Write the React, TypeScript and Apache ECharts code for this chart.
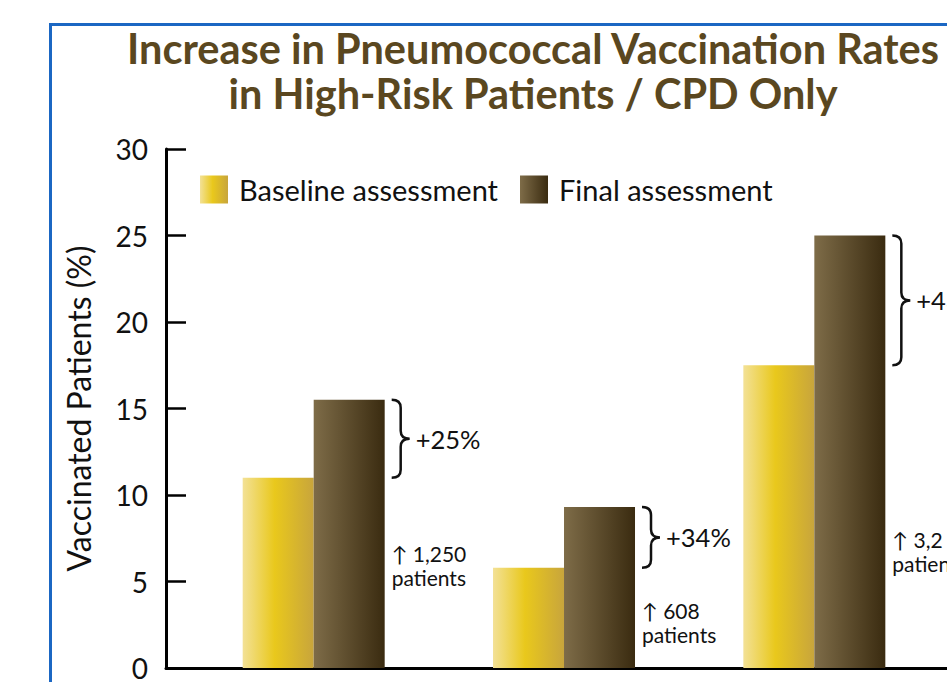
import React, { useEffect, useRef } from "react";
import * as echarts from "echarts";

// ---- data ----
const groups = [1, 2, 3];
const baselineValues = [11.0, 5.8, 17.5];
const finalValues = [15.5, 9.3, 25.0];
const increaseLabels = ["+25%", "+34%", "+43%"];
const patientLabels = ["↑ 1,250", "↑ 608", "↑ 3,2"];
const seriesNames = ["Baseline assessment", "Final assessment"];
const yTicks = [0, 5, 10, 15, 20, 25, 30];

// ---- layout constants ----
const BAR_W = 71;
const NOTE_TOP = [7.3, 4.0, 8.1];
const FONT = "Lato, 'Noto Sans', sans-serif";

export default function App() {
  const ref = useRef<HTMLDivElement>(null);
  useEffect(() => {
    if (!ref.current) return;
    const chart = echarts.init(ref.current, undefined, { renderer: "svg" });
    const baseGrad = new echarts.graphic.LinearGradient(0, 0, 1, 0, [
      { offset: 0, color: "#f3e196" },
      { offset: 0.45, color: "#e9c81c" },
      { offset: 1, color: "#c8a53c" },
    ]);
    const finalGrad = new echarts.graphic.LinearGradient(0, 0, 1, 0, [
      { offset: 0, color: "#7e6c48" },
      { offset: 1, color: "#3a2b10" },
    ]);
    const braceData = groups.map((g, i) => [g, baselineValues[i], finalValues[i], i]);
    chart.setOption({
      animation: false,
      graphic: [
        {
          type: "rect",
          shape: { x: 50.5, y: 24.5, width: 1200, height: 1000 },
          style: { fill: "none", stroke: "#1b67c3", lineWidth: 3 },
          silent: true,
        },
      ],
      title: {
        text: "Increase in Pneumococcal Vaccination Rates\nin High-Risk Patients / CPD Only",
        left: 533,
        top: 25,
        padding: 0,
        textAlign: "center",
        textStyle: {
          fontFamily: FONT,
          fontWeight: "bold",
          fontSize: 41.5,
          lineHeight: 45,
          color: "#5a4720",
        },
      },
      legend: {
        data: seriesNames,
        left: 200,
        top: 175,
        padding: 0,
        itemWidth: 28,
        itemHeight: 28,
        itemGap: 22,
        icon: "rect",
        textStyle: { fontFamily: FONT, fontSize: 29, color: "#111", padding: [0, 0, 0, 6] },
      },
      grid: { left: 166, right: 0, top: 149, bottom: 9, containLabel: false },
      xAxis: {
        type: "value",
        min: 0.41,
        max: 3.53,
        axisLine: { show: true, lineStyle: { color: "#000", width: 3 } },
        axisTick: { show: false },
        axisLabel: { show: false },
        splitLine: { show: false },
      },
      yAxis: {
        type: "value",
        min: yTicks[0],
        max: yTicks[yTicks.length - 1],
        interval: 5,
        name: "Vaccinated Patients (%)",
        nameLocation: "middle",
        nameGap: 72,
        nameTextStyle: { fontFamily: FONT, fontSize: 32, color: "#111" },
        axisLine: { show: true, lineStyle: { color: "#000", width: 3 } },
        axisTick: { show: true, inside: true, length: 20, lineStyle: { color: "#000", width: 2.5 } },
        axisLabel: { fontFamily: FONT, fontSize: 28, color: "#111", margin: 18 },
        splitLine: { show: false },
      },
      series: [
        {
          name: seriesNames[0],
          type: "bar",
          barWidth: BAR_W,
          barGap: "0%",
          itemStyle: { color: baseGrad },
          data: groups.map((g, i) => [g, baselineValues[i]]),
        },
        {
          name: seriesNames[1],
          type: "bar",
          barWidth: BAR_W,
          barGap: "0%",
          itemStyle: { color: finalGrad },
          data: groups.map((g, i) => [g, finalValues[i]]),
        },
        {
          type: "custom",
          silent: true,
          encode: { x: 0, y: [1, 2] },
          data: braceData,
          renderItem: (params: any, api: any) => {
            const x = api.value(0);
            const lo = api.value(1);
            const hi = api.value(2);
            const idx = api.value(3);
            const pTop = api.coord([x, hi]);
            const pBot = api.coord([x, lo]);
            const x0 = pTop[0] + BAR_W + 7;
            const yT = pTop[1];
            const yB = pBot[1];
            const yM = (yT + yB) / 2;
            const w = 18;
            const s = x0 + w / 2;
            const r = 8;
            const d =
              `M${x0},${yT} Q${s},${yT} ${s},${yT + r} L${s},${yM - r} Q${s},${yM} ${x0 + w},${yM} ` +
              `Q${s},${yM} ${s},${yM + r} L${s},${yB - r} Q${s},${yB} ${x0},${yB}`;
            const noteY = api.coord([x, NOTE_TOP[idx]])[1];
            return {
              type: "group",
              children: [
                {
                  type: "path",
                  shape: { pathData: d },
                  style: { fill: "none", stroke: "#111", lineWidth: 2.5 },
                },
                {
                  type: "text",
                  x: x0 + w + 6,
                  y: yM,
                  style: {
                    text: increaseLabels[idx],
                    fontFamily: FONT,
                    fontSize: 25.5,
                    fill: "#111",
                    verticalAlign: "middle",
                    align: "left",
                  },
                },
                {
                  type: "text",
                  x: x0,
                  y: noteY,
                  style: {
                    text: patientLabels[idx] + "\npatients",
                    fontFamily: FONT,
                    fontSize: 21,
                    lineHeight: 24,
                    fill: "#111",
                    verticalAlign: "top",
                    align: "left",
                  },
                },
              ],
            };
          },
        },
      ],
    });
    return () => chart.dispose();
  }, []);
  return (
    <div
      ref={ref}
      style={{ position: "fixed", left: 0, top: 0, width: 947, height: 682, background: "#fff" }}
    />
  );
}
